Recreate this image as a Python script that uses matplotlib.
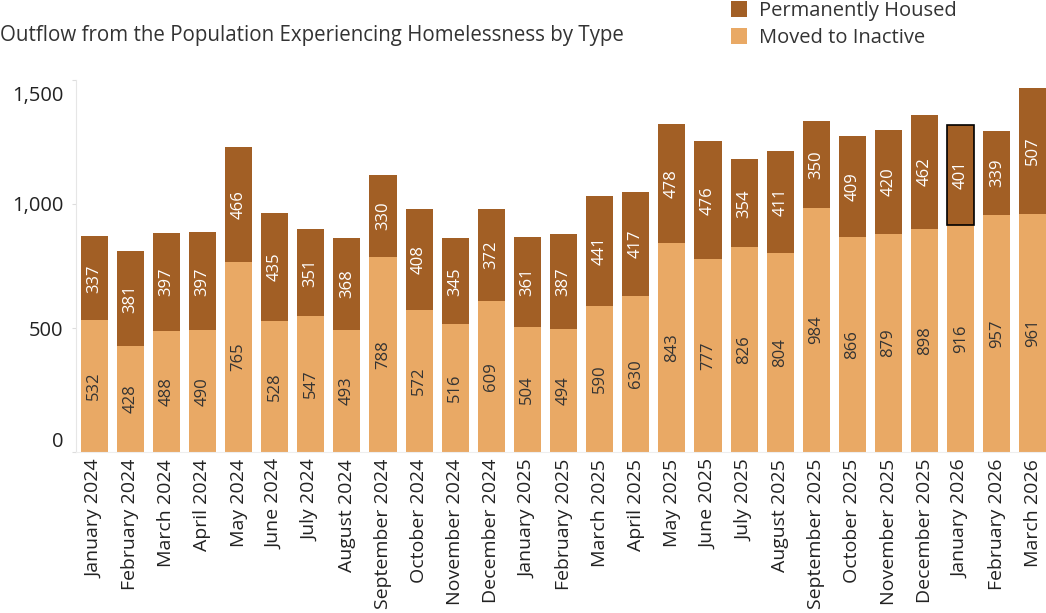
import matplotlib.pyplot as plt
import matplotlib.transforms as mtransforms
import numpy as np

months = ["January 2024", "February 2024", "March 2024", "April 2024", "May 2024",
          "June 2024", "July 2024", "August 2024", "September 2024", "October 2024",
          "November 2024", "December 2024", "January 2025", "February 2025",
          "March 2025", "April 2025", "May 2025", "June 2025", "July 2025",
          "August 2025", "September 2025", "October 2025", "November 2025",
          "December 2025", "January 2026", "February 2026", "March 2026"]
inactive = [532, 428, 488, 490, 765, 528, 547, 493, 788, 572, 516, 609, 504, 494,
            590, 630, 843, 777, 826, 804, 984, 866, 879, 898, 916, 957, 961]
housed = [337, 381, 397, 397, 466, 435, 351, 368, 330, 408, 345, 372, 361, 387,
          441, 417, 478, 476, 354, 411, 350, 409, 420, 462, 401, 339, 507]
highlight = "January 2026"

light = "#E9A965"
dark = "#A25F25"
font = "Open Sans"
plt.rcParams['font.family'] = [font, 'DejaVu Sans']

fig = plt.figure(figsize=(10.46, 6.13), dpi=100)
ax = fig.add_axes([76 / 1046, 161 / 613, 970 / 1046, 372 / 613])

x = np.arange(len(months))
ax.bar(x, inactive, width=0.75, color=light, label="Moved to Inactive")
edges = ["black" if m == highlight else dark for m in months]
lws = [1.2 if m == highlight else 0 for m in months]
ax.bar(x, housed, bottom=inactive, width=0.75, color=dark, edgecolor=edges,
       linewidth=lws, label="Permanently Housed")

# value labels inside each segment
for i in range(len(months)):
    ax.text(x[i], inactive[i] / 2, str(inactive[i]), rotation=90, ha='center',
            va='center', fontsize=12, color="#333333")
    ax.text(x[i], inactive[i] + housed[i] / 2, str(housed[i]), rotation=90,
            ha='center', va='center', fontsize=12, color="white")

ax.set_xlim(-0.5, 26.36)
ax.set_ylim(0, 1500)
ax.set_xticks(x)
ax.set_xticklabels(months, rotation=90, fontsize=14, color="#222222")
ax.tick_params(axis='x', length=0, pad=5)

ax.set_yticks([0, 500, 1000, 1500])
ax.set_yticklabels(["0", "500", "1,000", "1,500"], fontsize=14.5, color="#222222")
ax.tick_params(axis='y', length=3, color="#dddddd", pad=6)
ylabels = ax.get_yticklabels()
ylabels[0].set_va('bottom')
ylabels[-1].set_va('top')
ylabels[-1].set_transform(ylabels[-1].get_transform() +
                          mtransforms.ScaledTranslation(0, -6 / 100, fig.dpi_scale_trans))

for s in ["top", "right"]:
    ax.spines[s].set_visible(False)
ax.spines["left"].set_color("#e6e6e6")
ax.spines["bottom"].set_color("#eeeeee")

fig.text(0.0, 613 - 35, "Outflow from the Population Experiencing Homelessness by Type",
         transform=None, fontsize=14.8, color="#333333", va='center', ha='left')

# legend, Permanently Housed on top
handles, labels = ax.get_legend_handles_labels()
fig.legend(handles[::-1], labels[::-1], loc='upper left',
           bbox_to_anchor=(713 / 1046, 1.028), frameon=False, fontsize=14.5,
           handlelength=0.8, handleheight=0.8, handletextpad=0.6,
           labelspacing=0.35, labelcolor="#333333")

fig.savefig("out.png", dpi=100)
